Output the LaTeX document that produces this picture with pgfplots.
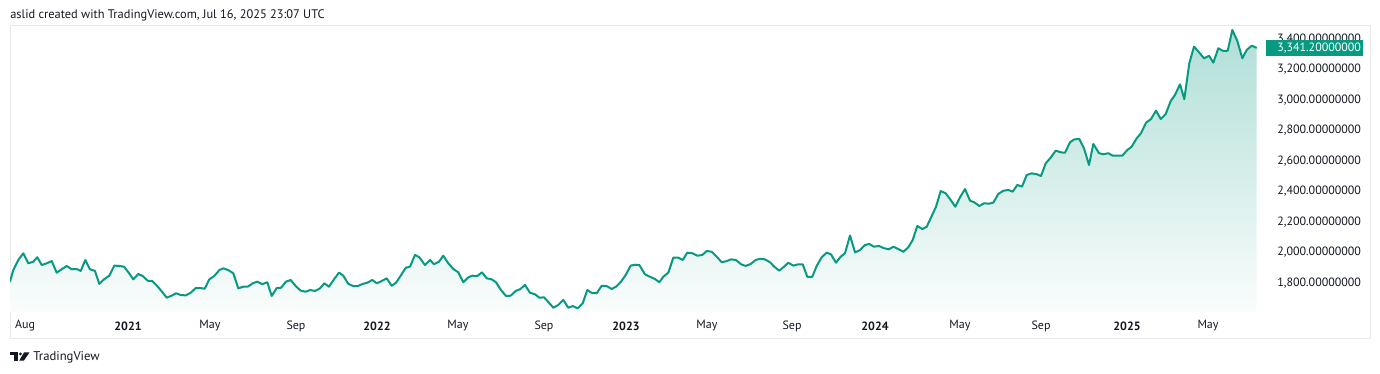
\documentclass[border=0pt]{standalone}
\usepackage{pgfplots}
\pgfplotsset{compat=1.18}
\usepackage{pgfplotstable}
\usepackage{fontspec}
\setmainfont{PT Sans}
\definecolor{tvgreen}{RGB}{8,153,129}
\definecolor{tvtext}{RGB}{19,23,34}
\pgfplotstableread{
t price
10 1809
13.3 1885
18.3 1951
23.3 1995
28.3 1929
33.3 1940
37.3 1969
41.7 1918
46.7 1929
51.7 1944
56.7 1868
61.7 1890
66.7 1912
71.7 1890
76.7 1892
80.7 1879
85.3 1951
90 1890
95 1879
99.3 1794
104 1824
109.3 1848
114.3 1914
119.3 1912
124 1907
128.7 1868
133.3 1824
138.3 1859
142.7 1846
147.7 1815
152.3 1813
157.3 1780
162 1743
166.7 1704
171.7 1717
176 1733
181 1721
185.7 1719
190.7 1736
195.7 1767
200 1767
204.7 1763
209.3 1824
214.3 1846
219.3 1885
223.3 1896
228.3 1885
233.3 1864
238.3 1765
243.3 1776
247.7 1776
252.7 1798
257.3 1809
262.3 1792
267.3 1805
271.7 1715
276.7 1767
281 1769
286 1809
290.7 1820
295.7 1780
300.7 1750
305.7 1743
310 1754
315 1748
320 1765
324.3 1798
329 1776
334 1824
339 1868
343.3 1848
348.3 1794
353.3 1780
357.7 1780
362.7 1794
367.3 1802
372.3 1820
376.7 1798
381.7 1813
386.7 1831
391.7 1782
396 1802
400.7 1848
405.7 1900
410 1907
415 1984
419.3 1969
425 1918
430 1951
434 1923
439 1940
443.3 1979
448.3 1929
453.3 1892
458.3 1870
463.3 1805
468.3 1837
472.3 1848
477.3 1846
482 1870
486.7 1831
491.7 1824
496 1805
501 1754
506 1715
510.7 1717
515.7 1748
520 1759
525 1787
530 1736
535 1726
539.3 1704
544 1706
549 1671
553.3 1638
558.3 1656
563.3 1689
568.3 1638
572.7 1649
577.7 1634
582.7 1667
587.3 1754
592.3 1733
596.7 1733
601.7 1782
606.7 1780
611.7 1761
616 1776
621 1809
625.7 1853
630.7 1914
635 1920
639.3 1918
645 1857
650 1841
655 1826
659.3 1805
663.3 1841
668.3 1868
673.3 1966
678.3 1966
682.7 1951
687.3 1999
692.3 1995
697.3 1979
702.3 1984
706.7 2010
711.7 2005
716.7 1973
721.7 1936
726.7 1944
731 1955
736 1951
741 1923
745.7 1912
750.7 1925
755.7 1951
760 1959
765 1955
770 1936
774.3 1907
779.3 1881
784 1907
788.3 1933
793.3 1914
798.3 1923
802.7 1923
807.3 1841
812.3 1841
816.7 1912
821.7 1969
826.7 1999
831 1988
836 1933
840.7 1973
845 1995
850 2112
855 2001
860 2016
865 2049
869.3 2056
874 2038
879 2043
884 2028
889 2021
893.3 2038
898.3 2023
903.3 2005
908.3 2034
912.7 2082
917.3 2174
922.3 2154
926.7 2169
931.7 2239
936 2300
940.7 2403
945.7 2388
950.7 2344
955.3 2300
960 2362
965 2416
970 2340
974.3 2329
979.3 2305
984 2323
989 2320
993.3 2327
998.3 2384
1003.3 2405
1008.3 2410
1012.7 2399
1017.3 2443
1022 2432
1026.7 2508
1031.7 2519
1036.7 2513
1041 2502
1045.7 2585
1050.7 2622
1055.7 2668
1060.7 2657
1065 2654
1070 2723
1074.3 2742
1079.3 2744
1084 2683
1089 2574
1093.3 2712
1099 2651
1103.3 2644
1108.3 2651
1112.7 2635
1117.3 2635
1122.3 2635
1127.3 2672
1131.7 2694
1136.7 2749
1141 2782
1146 2851
1151 2875
1156 2930
1160.7 2875
1165.7 2908
1170.7 2993
1175 3033
1180 3103
1184.3 3005
1189.3 3241
1194 3350
1199 3313
1204 3273
1209 3290
1213.3 3245
1218.3 3339
1223.3 3321
1227.7 3323
1232.3 3459
1237.3 3387
1242.3 3273
1246.7 3328
1251.7 3356
1256.7 3341
}\gold

\begin{document}
\begin{tikzpicture}
\path[use as bounding box] (0,0) rectangle (1035pt,280.5pt);
\begin{scope}[shift={(0pt,280.5pt)}, x=0.75pt, y=-0.75pt]
  \draw[color=black!9, line width=0.75pt] (10,26) rectangle (1370,339);
  \node[anchor=west, inner sep=0pt, font=\fontsize{9.3}{11}\selectfont, text=tvtext] at (10,15) {aslid created with TradingView.com, Jul 16, 2025 23:07 UTC};
  % logo
  \fill[tvtext] (10,352.5) rectangle (17.5,355.5);
  \fill[tvtext] (14,352.5) rectangle (17.5,360.7);
  \fill[tvtext] (20.4,354) circle (1.6);
  \fill[tvtext] (24,352.5) -- (29.5,352.5) -- (23.8,360.7) -- (19.2,360.7) -- cycle;
  \node[anchor=west, inner sep=0pt, font=\fontsize{9.5}{11}\selectfont, text=tvtext] at (33,357) {TradingView};
\end{scope}
\begin{axis}[
  at={(7.5pt,261pt)}, anchor=north west,
  scale only axis, width=941.25pt, height=214.5pt,
  xmin=10, xmax=1265, ymin=1610, ymax=3485,
  axis line style={draw=none},
  major tick length=0pt, tick style={draw=none},
  xtick={25,128,210,296,377,458,544,626,707,792,875,960,1041,1127,1208},
  xticklabels={Aug,\textbf{2021},May,Sep,\textbf{2022},May,Sep,\textbf{2023},May,Sep,\textbf{2024},May,Sep,\textbf{2025},May},
  ytick={1800,2000,2200,2400,2600,2800,3000,3200,3400},
  yticklabels={{1,800.00000000},{2,000.00000000},{2,200.00000000},{2,400.00000000},{2,600.00000000},{2,800.00000000},{3,000.00000000},{3,200.00000000},{3,400.00000000}},
  yticklabel pos=right,
  ticklabel style={font=\fontsize{9}{11}\selectfont, text=tvtext},
  xticklabel style={anchor=center, inner sep=0pt, yshift=-10.5pt},
  yticklabel style={anchor=west, inner sep=0pt, xshift=9pt},
]
\addplot[draw=none, top color=tvgreen!32!white, bottom color=tvgreen!2!white] table[x=t,y=price]{\gold} |- (axis cs:10,1610) -- cycle;
\addplot[color=tvgreen, line width=1.5pt, line join=round, mark=none] table[x=t,y=price]{\gold};
\end{axis}
\begin{scope}[shift={(0pt,280.5pt)}, x=0.75pt, y=-0.75pt]
  \fill[tvgreen] (1266,40) rectangle (1363,56);
  \node[anchor=west, inner sep=0pt, font=\fontsize{9}{11}\selectfont, text=white] at (1277,48) {3,341.20000000};
\end{scope}
\end{tikzpicture}
\end{document}
